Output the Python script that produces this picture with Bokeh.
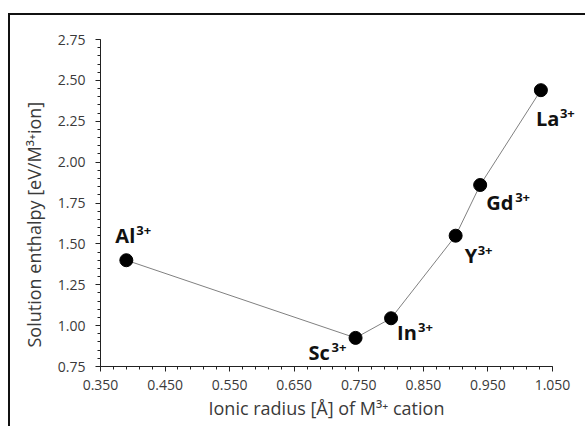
from bokeh.plotting import figure
from bokeh.models import ColumnDataSource, FixedTicker, PrintfTickFormatter, Range1d, LabelSet, Title
from bokeh.core.properties import value
from bokeh.embed import file_html
from bokeh.resources import INLINE

# ---- data ----
ions = ["Al", "Sc", "In", "Y", "Gd", "La"]
charges = ["3+", "3+", "3+", "3+", "3+", "3+"]
ionic_radius = [0.390, 0.745, 0.800, 0.900, 0.938, 1.032]
solution_enthalpy = [1.40, 0.925, 1.045, 1.55, 1.86, 2.44]

x_ticks = [0.35, 0.45, 0.55, 0.65, 0.75, 0.85, 0.95, 1.05]
y_ticks = [0.75, 1.00, 1.25, 1.50, 1.75, 2.00, 2.25, 2.50, 2.75]
x_min, x_max = 0.35, 1.05
y_min, y_max = 0.75, 2.75
x_label = "Ionic radius [Å] of M³⁺ cation"
y_label = "Solution enthalpy [eV/M³⁺ion]"

# ---- label layout (pixel offsets relative to each point; positive = up) ----
base_dx = [-11, -47, 6, 9, 6, -5]
base_dy = [17, -22, -22, -27, -25, -36]
sup_dx = [21, 23, 21, 13, 29, 24]   # width of the base text

src = ColumnDataSource(dict(x=ionic_radius, y=solution_enthalpy, ion=ions, ch=charges,
                            bx=base_dx, by=base_dy,
                            sx=[a + b for a, b in zip(base_dx, sup_dx)],
                            sy=[b + 8 for b in base_dy]))

FONT = "Open Sans"
TXT = "#3a3a3a"

AXIS_W = 452          # pixel length of the x axis
FRAME_W = 485         # frame extends right of the axis so that labels are not clipped
p = figure(frame_width=FRAME_W, frame_height=327,
           min_border_left=90, min_border_right=0, min_border_top=24, min_border_bottom=60,
           x_range=Range1d(x_min, x_min + (x_max - x_min) * FRAME_W / AXIS_W),
           y_range=Range1d(y_min, y_max),
           output_backend="svg", toolbar_location=None, tools="")
p.styles = {"margin-top": "13px", "margin-left": "8px",
            "border-left": "2px solid #111", "border-top": "2px solid #111"}
p.outline_line_color = None
p.xgrid.visible = False
p.ygrid.visible = False

p.line("x", "y", source=src, line_color="#808080", line_width=1)
p.scatter("x", "y", source=src, size=13, fill_color="black", line_color="black")

p.add_layout(LabelSet(x="x", y="y", text="ion", source=src, x_offset="bx", y_offset="by",
                      text_font=value(FONT), text_font_style="bold", text_font_size="20px",
                      text_baseline="alphabetic", text_align="left", text_color="#111111"))
p.add_layout(LabelSet(x="x", y="y", text="ch", source=src, x_offset="sx", y_offset="sy",
                      text_font=value(FONT), text_font_style="bold", text_font_size="13px",
                      text_baseline="alphabetic", text_align="left", text_color="#111111"))

for ax in (p.xaxis[0], p.yaxis[0]):
    ax.axis_line_color = "#222222"
    ax.major_tick_line_color = "#222222"
    ax.minor_tick_line_color = "#222222"
    ax.major_tick_in = 0
    ax.major_tick_out = 5
    ax.minor_tick_in = 0
    ax.minor_tick_out = 3
    ax.major_label_text_font = FONT
    ax.major_label_text_font_size = "14px"
    ax.major_label_text_color = TXT

p.xaxis.bounds = (x_min, x_max)
p.xaxis.ticker = FixedTicker(ticks=x_ticks, minor_ticks=[round(0.35 + 0.02 * i, 2) for i in range(36)])
p.yaxis.ticker = FixedTicker(ticks=y_ticks, minor_ticks=[round(0.75 + 0.05 * i, 2) for i in range(41)])
p.xaxis.formatter = PrintfTickFormatter(format="%.3f")
p.yaxis.formatter = PrintfTickFormatter(format="%.2f")
p.xaxis.major_label_standoff = 8
p.yaxis.major_label_standoff = 10

# axis titles as side titles so they can be placed along the axis
p.add_layout(Title(text=x_label, align="left", offset=108, standoff=2,
                   text_font=FONT, text_font_size="18px", text_font_style="normal",
                   text_color=TXT), "below")
p.add_layout(Title(text=y_label, align="left", offset=19, standoff=17,
                   text_font=FONT, text_font_size="18px", text_font_style="normal",
                   text_color=TXT), "left")

open("out.html", "w").write(file_html(p, INLINE))
